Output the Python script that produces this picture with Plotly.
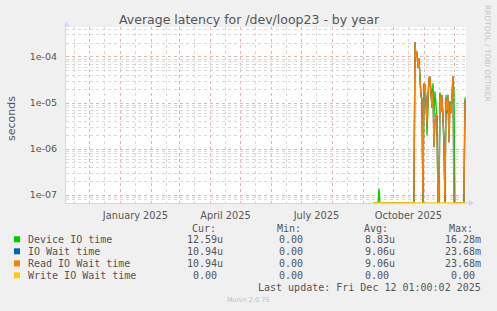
import numpy as np
import pandas as pd
import plotly.graph_objects as go

# ---------------- data ----------------
TITLE = "Average latency for /dev/loop23 - by year"
Y_LABEL = "seconds"
X_START = "2024-11-07 01:00"
X_END = "2025-12-12 01:00"
Y_LOG_MIN, Y_LOG_MAX = -7.17, -3.35

DATES = pd.date_range("2025-09-10", "2025-12-12", freq="D")

device_io = [
    0, 0, 0, 0, 0, 0, 1.4e-7, 0, 0, 0,
    0, 0, 0, 0, 0, 0, 0, 0, 0, 0,
    0, 0, 0, 0, 0, 0, 0, 0, 0, 0,
    0, 0, 0, 0, 0, 0, 0, 0, 0, 0,
    0, 0, 1.9e-4, 1.1e-4, 1.2e-4, 6.5e-5, 8.5e-5, 3.0e-5, 1.5e-5, 1.3e-5,
    0, 2.5e-5, 1.8e-5, 1.2e-5, 2.0e-6, 1.5e-5, 3.0e-5, 3.4e-5, 2.0e-5, 9e-6,
    2.7e-5, 5e-6, 1.8e-5, 7e-6, 5e-6, 0, 0, 1.7e-5, 8e-6, 1.3e-5,
    5e-6, 2e-6, 0, 1.5e-5, 6e-6, 8e-6, 5e-6, 1.1e-5, 9e-6, 1.0e-5,
    3.0e-5, 2e-5, 0, 0, 0, 0, 0, 0, 0, 0,
    0, 0, 1.259e-5, 1.259e-5,
]
io_wait = [
    0, 0, 0, 0, 0, 0, 0, 0, 0, 0,
    0, 0, 0, 0, 0, 0, 0, 0, 0, 0,
    0, 0, 0, 0, 0, 0, 0, 0, 0, 0,
    0, 0, 0, 0, 0, 0, 0, 0, 0, 0,
    0, 0, 2.1e-4, 1.0e-4, 1.3e-4, 5.8e-5, 9.5e-5, 2.7e-5, 1.4e-5, 1.2e-5,
    0, 2.7e-5, 2.5e-5, 1.2e-5, 3.4e-6, 1.3e-5, 3.5e-5, 3.8e-5, 1.8e-5, 7.8e-6,
    1.8e-5, 1.1e-6, 4e-6, 6e-6, 5e-6, 0, 0, 1.6e-5, 6.4e-6, 1.5e-5,
    4.8e-6, 1.2e-6, 0, 1.3e-5, 6.8e-6, 1.5e-5, 1.4e-6, 9e-6, 6e-6, 1.2e-5,
    3.8e-5, 0, 0, 0, 0, 0, 0, 0, 0, 0,
    0, 0, 1.094e-5, 1.094e-5,
]
read_io_wait = [
    0, 0, 0, 0, 0, 0, 0, 0, 0, 0,
    0, 0, 0, 0, 0, 0, 0, 0, 0, 0,
    0, 0, 0, 0, 0, 0, 0, 0, 0, 0,
    0, 0, 0, 0, 0, 0, 0, 0, 0, 0,
    0, 0, 2.1e-4, 1.0e-4, 1.3e-4, 5.8e-5, 9.5e-5, 2.7e-5, 1.4e-5, 1.2e-5,
    0, 2.7e-5, 2.5e-5, 1.2e-5, 3.4e-6, 1.3e-5, 3.5e-5, 3.8e-5, 1.8e-5, 7.8e-6,
    1.8e-5, 1.1e-6, 4e-6, 6e-6, 5e-6, 0, 0, 1.6e-5, 6.4e-6, 1.5e-5,
    4.8e-6, 1.2e-6, 0, 1.3e-5, 6.8e-6, 1.5e-5, 1.4e-6, 9e-6, 6e-6, 1.2e-5,
    3.8e-5, 0, 0, 0, 0, 0, 0, 0, 0, 0,
    0, 0, 1.094e-5, 1.094e-5,
]
write_io_wait = [
    0, 0, 0, 0, 0, 0, 0, 0, 0, 0,
    0, 0, 0, 0, 0, 0, 0, 0, 0, 0,
    0, 0, 0, 0, 0, 0, 0, 0, 0, 0,
    0, 0, 0, 0, 0, 0, 0, 0, 0, 0,
    0, 0, 0, 0, 0, 0, 0, 0, 0, 0,
    0, 0, 0, 0, 0, 0, 0, 0, 0, 0,
    0, 0, 0, 0, 0, 0, 0, 0, 0, 0,
    0, 0, 0, 0, 0, 0, 0, 0, 0, 0,
    0, 0, 0, 0, 0, 0, 0, 0, 0, 0,
    0, 0, 0, 0,
]

SERIES_NAMES = ["Device IO time", "IO Wait time", "Read IO Wait time", "Write IO Wait time"]
SERIES_VALUES = [device_io, io_wait, read_io_wait, write_io_wait]
COLORS = ["#00cc00", "#0066b3", "#ff8000", "#ffcc00"]
CUR = ["12.59u", "10.94u", "10.94u", "0.00"]
MIN = ["0.00", "0.00", "0.00", "0.00"]
AVG = ["8.83u", "9.06u", "9.06u", "0.00"]
MAX = ["16.28m", "23.68m", "23.68m", "0.00"]
Y_TICKS = [1e-7, 1e-6, 1e-5, 1e-4]
Y_TICK_TEXT = ["1e-07", "1e-06", "1e-05", "1e-04"]
LABELED_MONTHS = [1, 4, 7, 10]
LAST_UPDATE = "Last update: Fri Dec 12 01:00:02 2025"
FOOTER = "Munin 2.0.75"
SIDE_TEXT = "RRDTOOL / TOBI OETIKER"

# ---------------- layout geometry ----------------
W, H = 497, 311
L, R, T, B = 66, 466, 27, 203
PW, PH = R - L, B - T

FONT = "DejaVu Sans"
MONO = "DejaVu Sans Mono"
TXT = "#555555"
AXIS = "#CFD6F8"
GRID_MAJOR = "#ebb2b2"
GRID_MINOR = "#d9d9d9"
GRID_DASH = "dot"


def fx(px):
    return (px - L) / PW


def fy(py):
    return (B - py) / PH


FLOOR = 10 ** Y_LOG_MIN


def to_plot(vals):
    return [v if v > 0 else FLOOR for v in vals]


fig = go.Figure()
for name, vals, col in zip(SERIES_NAMES, SERIES_VALUES, COLORS):
    fig.add_trace(go.Scatter(
        x=DATES, y=to_plot(vals), mode="lines", name=name,
        line=dict(color=col, width=1.3), showlegend=False, hoverinfo="skip",
    ))

month_starts = pd.date_range("2024-12-01", "2025-12-01", freq="MS")
mid_months = pd.date_range("2024-11-01", "2025-12-01", freq="MS") + pd.Timedelta(days=14, hours=12)
mid_text = [d.strftime("%B %Y") if d.month in LABELED_MONTHS else "" for d in mid_months]

y_minor = [m * 10.0 ** e for e in range(-8, -3) for m in range(2, 10)]

fig.update_layout(
    width=W, height=H,
    margin=dict(l=L, r=W - R, t=T, b=H - B),
    paper_bgcolor="#f0f0f0", plot_bgcolor="#ffffff",
    showlegend=False,
    xaxis=dict(
        type="date", range=[X_START, X_END],
        tickmode="array", tickvals=mid_months, ticktext=mid_text,
        showgrid=True, gridcolor=GRID_MINOR, griddash=GRID_DASH, gridwidth=1,
        minor=dict(tickmode="array", tickvals=month_starts, showgrid=True,
                   gridcolor=GRID_MAJOR, griddash=GRID_DASH, gridwidth=1),
        showline=True, linecolor=AXIS, linewidth=1, zeroline=False,
        ticks="", tickfont=dict(family=FONT, size=9.8, color=TXT),
        ticklabelstandoff=3,
    ),
    yaxis=dict(
        type="log", range=[Y_LOG_MIN, Y_LOG_MAX],
        tickmode="array", tickvals=Y_TICKS, ticktext=Y_TICK_TEXT,
        showgrid=True, gridcolor=GRID_MAJOR, griddash=GRID_DASH, gridwidth=1,
        minor=dict(tickmode="array", tickvals=y_minor, showgrid=True,
                   gridcolor=GRID_MINOR, griddash=GRID_DASH, gridwidth=1),
        showline=True, linecolor=AXIS, linewidth=1, zeroline=False,
        ticks="", tickfont=dict(family=FONT, size=9.5, color=TXT),
        ticklabelstandoff=6,
    ),
)

ann = []
ann.append(dict(text=TITLE, x=fx(249), y=fy(19), xref="paper", yref="paper",
                xanchor="center", yanchor="middle", showarrow=False,
                font=dict(family=FONT, size=12.5, color=TXT)))
ann.append(dict(text=Y_LABEL, x=fx(11), y=fy(118), xref="paper", yref="paper",
                xanchor="center", yanchor="middle", showarrow=False, textangle=-90,
                font=dict(family=FONT, size=11, color=TXT)))
ann.append(dict(text=SIDE_TEXT, x=fx(488), y=fy(53), xref="paper", yref="paper",
                xanchor="center", yanchor="middle", showarrow=False, textangle=90,
                font=dict(family=FONT, size=7.5, color="#c4c4c4")))

# legend table
HEAD_Y = 228.3
ROW_Y = [239.3, 251.3, 263.3, 275.3]
COL_RIGHT = [225.3, 311.3, 396.7, 483.3]
HEADERS = ["Cur:", "Min:", "Avg:", "Max:"]
HEAD_LEFT = [190, 275, 361.7, 446.7]
NB = "\u00a0"


def mono(text, px, py, anchor):
    return dict(text=text, x=fx(px), y=fy(py), xref="paper", yref="paper",
                xanchor=anchor, yanchor="middle", showarrow=False,
                font=dict(family=MONO, size=10, color=TXT))


for h, hx in zip(HEADERS, HEAD_LEFT):
    ann.append(mono(h, hx, HEAD_Y, "left"))

shapes = []
for i, name in enumerate(SERIES_NAMES):
    yy = ROW_Y[i]
    shapes.append(dict(type="rect", xref="paper", yref="paper",
                       x0=fx(14), x1=fx(20), y0=fy(yy + 3), y1=fy(yy - 3),
                       fillcolor=COLORS[i], line=dict(width=0)))
    ann.append(mono(name, 26, yy, "left"))
    for col, vals in enumerate([CUR, MIN, AVG, MAX]):
        v = vals[i]
        if not v[-1].isalpha():
            v = v + NB
        ann.append(mono(v, COL_RIGHT[col], yy, "right"))

ann.append(mono(LAST_UPDATE, 483.3, 287.3, "right"))
ann.append(dict(text=FOOTER, x=fx(248), y=fy(300.3), xref="paper", yref="paper",
                xanchor="center", yanchor="middle", showarrow=False,
                font=dict(family=FONT, size=6.5, color="#c0c0c0")))

# axis arrows
shapes.append(dict(type="path", xref="paper", yref="paper",
                   path=f"M {fx(63.5)} {fy(26.5)} L {fx(66.5)} {fy(21.5)} L {fx(69.5)} {fy(26.5)} Z",
                   fillcolor=AXIS, line=dict(width=0)))
shapes.append(dict(type="path", xref="paper", yref="paper",
                   path=f"M {fx(469)} {fy(200)} L {fx(474)} {fy(203)} L {fx(469)} {fy(206)} Z",
                   fillcolor=AXIS, line=dict(width=0)))
shapes.append(dict(type="line", xref="paper", yref="paper",
                   x0=fx(466), x1=fx(469), y0=0, y1=0, line=dict(color=AXIS, width=1)))

fig.update_layout(annotations=ann, shapes=shapes)
fig.write_html("out.html")
